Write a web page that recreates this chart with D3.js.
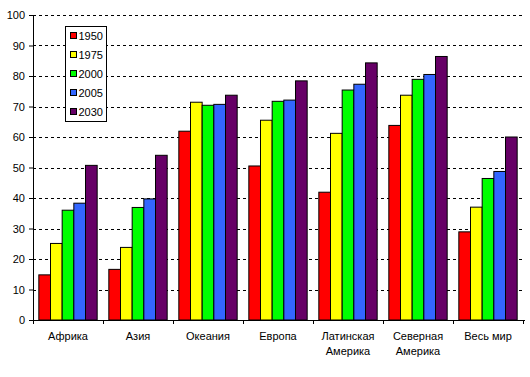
<!DOCTYPE html>
<html>
<head>
<meta charset="utf-8">
<script src="https://cdn.jsdelivr.net/npm/d3@7"></script>
<style>
  body { margin: 0; background: #fff; }
  svg text { font-family: "Liberation Sans", Arial, sans-serif; font-size: 11px; fill: #000; }
</style>
</head>
<body>
<div id="chart"></div>
<script>
// Regions (two-line labels split on "\n") and values per year series
const regions = ['Африка', 'Азия', 'Океания', 'Европа', 'Латинская\nАмерика', 'Северная\nАмерика', 'Весь мир'];
const years = ['1950', '1975', '2000', '2005', '2030'];
const colors = ['#ff0000', '#ffff00', '#00ff00', '#3366ff', '#660066'];
const v1950 = [14.8, 16.6, 61.9, 50.5, 41.9, 63.8, 28.9];
const v1975 = [25.1, 23.8, 71.4, 65.5, 61.2, 73.7, 37.0];
const v2000 = [36.0, 36.9, 70.4, 71.7, 75.4, 78.9, 46.4];
const v2005 = [38.3, 39.7, 70.7, 72.1, 77.3, 80.5, 48.7];
const v2030 = [50.7, 54.0, 73.7, 78.4, 84.3, 86.4, 60.0];
const yTicks = d3.range(0, 101, 10);

const series = [v1950, v1975, v2000, v2005, v2030];
const width = 530, height = 377;
const m = { top: 15, right: 7, bottom: 57, left: 33 };
const innerW = width - m.left - m.right;
const innerH = height - m.top - m.bottom;

const svg = d3.select('#chart').append('svg').attr('width', width).attr('height', height);
const g = svg.append('g').attr('transform', `translate(${m.left},${m.top})`);

const x = d3.scaleBand().domain(regions).range([0, innerW]).paddingInner(1 / 6).paddingOuter(1 / 12);
const xGroup = d3.scaleBand().domain(regions).range([0, innerW]);
const xi = d3.scaleBand().domain(years).range([0, x.bandwidth()]);
const y = d3.scaleLinear().domain([0, 100]).range([innerH, 0]);

// Dashed gridlines
g.append('g').selectAll('line')
  .data(yTicks.filter(d => d > 0))
  .enter().append('line')
  .attr('x1', 0).attr('x2', innerW)
  .attr('y1', d => Math.round(y(d)) + 0.5).attr('y2', d => Math.round(y(d)) + 0.5)
  .attr('stroke', '#000').attr('stroke-dasharray', '3,3');

// Bars
const groups = g.selectAll('.grp')
  .data(regions)
  .enter().append('g')
  .attr('transform', d => `translate(${x(d)},0)`);

groups.selectAll('rect')
  .data((d, i) => years.map((yr, k) => ({ yr, k, v: series[k][i] })))
  .enter().append('rect')
  .attr('x', d => xi(d.yr))
  .attr('y', d => y(d.v))
  .attr('width', xi.bandwidth())
  .attr('height', d => innerH - y(d.v))
  .attr('fill', d => colors[d.k])
  .attr('stroke', '#000')
  .attr('stroke-width', 1);

// Y axis
const yAxis = g.append('g')
  .call(d3.axisLeft(y).tickValues(yTicks).tickSize(4).tickPadding(4));
yAxis.select('.domain').attr('stroke', '#000');
yAxis.selectAll('text').style('font-size', '11px').style('font-family', '"Liberation Sans", Arial, sans-serif');

// X axis with ticks between groups
const xAxis = g.append('g').attr('transform', `translate(0,${innerH})`);
xAxis.append('line').attr('x1', 0).attr('x2', innerW + 2).attr('y1', 0.5).attr('y2', 0.5).attr('stroke', '#000');
xAxis.selectAll('.tick')
  .data(regions.concat(['end']))
  .enter().append('line')
  .attr('x1', (d, i) => Math.round(i * xGroup.step()) + 0.5)
  .attr('x2', (d, i) => Math.round(i * xGroup.step()) + 0.5)
  .attr('y1', 0).attr('y2', 4)
  .attr('stroke', '#000');

const lbl = xAxis.selectAll('.lbl')
  .data(regions)
  .enter().append('text')
  .attr('text-anchor', 'middle')
  .attr('transform', d => `translate(${xGroup(d) + xGroup.bandwidth() / 2},20)`);
lbl.selectAll('tspan')
  .data(d => d.split('\n'))
  .enter().append('tspan')
  .attr('x', 0)
  .attr('dy', (d, i) => i === 0 ? 0 : 15)
  .text(d => d);

// Legend
const leg = svg.append('g').attr('transform', 'translate(65.5,26.5)');
leg.append('rect').attr('width', 41).attr('height', 95).attr('fill', '#fff').attr('stroke', '#000');
const items = leg.selectAll('.item')
  .data(years)
  .enter().append('g')
  .attr('transform', (d, i) => `translate(5,${6 + i * 19})`);
items.append('rect').attr('width', 6).attr('height', 6)
  .attr('fill', (d, i) => colors[i]).attr('stroke', '#000');
items.append('text').attr('x', 8).attr('y', 7).text(d => d);
</script>
</body>
</html>
